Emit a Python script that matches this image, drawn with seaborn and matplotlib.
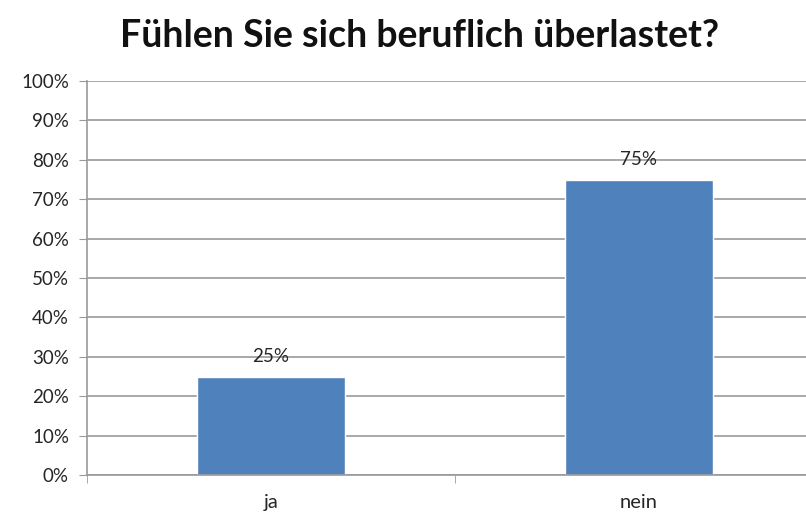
import matplotlib
matplotlib.use("Agg")
import matplotlib.pyplot as plt
import seaborn as sns
import pandas as pd
from matplotlib.ticker import MultipleLocator, FuncFormatter

# data
antworten = ["ja", "nein"]
anteile = [25, 75]
etiketten = ["25%", "75%"]

df = pd.DataFrame({"Antwort": antworten, "Anteil": anteile})

sns.set_style("white")
plt.rcParams["font.family"] = ["Lato", "DejaVu Sans"]

fig = plt.figure(figsize=(8.06, 5.13), dpi=100)
ax = fig.add_axes([87 / 806, 1 - 475 / 513, 1 - 87 / 806, (475 - 81) / 513])

sns.barplot(data=df, x="Antwort", y="Anteil", color="#4F81BD", width=0.4,
            saturation=1, ax=ax)

for i, (v, t) in enumerate(zip(anteile, etiketten)):
    ax.text(i, v + 3, t, ha="center", va="bottom", fontsize=13.5, color="#262626")

ax.set_ylim(0, 100)
ax.set_xlim(-0.5, 1.454)
ax.yaxis.set_major_locator(MultipleLocator(10))
ax.yaxis.set_major_formatter(FuncFormatter(lambda v, p: f"{v:.0f}%"))
ax.grid(axis="y", color="#999999", linewidth=1.2)
ax.set_axisbelow(True)

for s in ["top", "right"]:
    ax.spines[s].set_visible(False)
for s in ["left", "bottom"]:
    ax.spines[s].set_color("#999999")
    ax.spines[s].set_linewidth(1.2)

ax.tick_params(axis="y", left=True, length=6, color="#999999", labelsize=13.5,
               labelcolor="#262626", pad=7)
ax.tick_params(axis="x", bottom=False, labelsize=14.5, labelcolor="#262626", pad=10)
# category boundary ticks like the original
ax.set_xticks([-0.5, 0.5], minor=True)
ax.tick_params(axis="x", which="minor", bottom=True, length=6, color="#999999")
ax.set_xlabel("")
ax.set_ylabel("")

fig.text(0.52, 1 - 36 / 513, "Fühlen Sie sich beruflich überlastet?",
         ha="center", va="center", fontsize=27, fontweight="bold", color="#111111")

fig.savefig("out.png", dpi=100)
